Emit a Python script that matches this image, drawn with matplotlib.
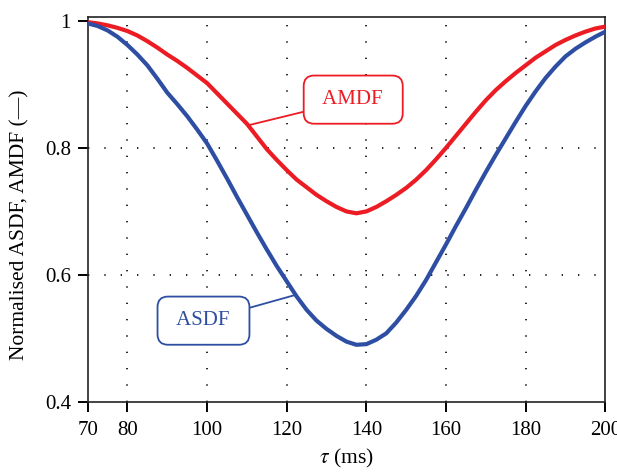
import matplotlib
matplotlib.use("Agg")
import matplotlib.pyplot as plt

tau = [70, 72.5, 75, 77.5, 80, 82.5, 85, 87.5, 90, 92.5, 95, 97.5, 100, 102.5,
       105, 107.5, 110, 112.5, 115, 117.5, 120, 122.5, 125, 127.5, 130, 132.5,
       135, 137.5, 140, 142.5, 145, 147.5, 150, 152.5, 155, 157.5, 160, 162.5,
       165, 167.5, 170, 172.5, 175, 177.5, 180, 182.5, 185, 187.5, 190, 192.5,
       195, 197.5, 200]
asdf = [0.996, 0.992, 0.985, 0.975, 0.962, 0.947, 0.930, 0.909, 0.887, 0.869,
        0.850, 0.829, 0.807, 0.780, 0.752, 0.723, 0.695, 0.667, 0.640, 0.614,
        0.590, 0.566, 0.545, 0.528, 0.515, 0.504, 0.495, 0.490, 0.491, 0.498,
        0.508, 0.525, 0.545, 0.567, 0.592, 0.620, 0.648, 0.677, 0.705, 0.734,
        0.762, 0.789, 0.815, 0.841, 0.866, 0.889, 0.910, 0.928, 0.944, 0.956,
        0.966, 0.975, 0.983]
amdf = [0.998, 0.996, 0.993, 0.989, 0.984, 0.977, 0.968, 0.958, 0.947, 0.937,
        0.926, 0.914, 0.902, 0.886, 0.870, 0.854, 0.838, 0.818, 0.798, 0.781,
        0.765, 0.750, 0.738, 0.726, 0.716, 0.707, 0.700, 0.697, 0.700, 0.707,
        0.716, 0.726, 0.737, 0.750, 0.765, 0.782, 0.800, 0.819, 0.838, 0.857,
        0.875, 0.891, 0.905, 0.918, 0.930, 0.942, 0.952, 0.962, 0.970, 0.977,
        0.983, 0.988, 0.991]
xticks = [70, 80, 100, 120, 140, 160, 180, 200]
yticks = [0.4, 0.6, 0.8, 1.0]
ytick_labels = ["0.4", "0.6", "0.8", "1"]

RED = "#ec1c24"
BLUE = "#2e4ea3"

plt.rcParams['font.family'] = ['Liberation Serif', 'DejaVu Serif']
plt.rcParams['mathtext.fontset'] = 'stix'

fig = plt.figure(figsize=(6.17, 4.74), dpi=100)
ax = fig.add_axes([0.142, 0.152, 0.839, 0.812])

ax.plot(tau, amdf, color=RED, lw=3.0, solid_joinstyle='round', zorder=3)
ax.plot(tau, asdf, color=BLUE, lw=3.0, solid_joinstyle='round', zorder=3)

ax.set_xlim(70, 200)
ax.set_ylim(0.4, 1.006)
ax.set_xticks(xticks)
ax.set_xticklabels([str(t) for t in xticks])
ax.set_yticks(yticks)
ax.set_yticklabels(ytick_labels)

gridstyle = dict(color='black', lw=1.2, linestyle=(0, (0.8, 9)), zorder=1)
for xv in xticks[1:-1]:
    ax.axvline(xv, **gridstyle)
for yv in [0.6, 0.8]:
    ax.axhline(yv, **gridstyle)

ax.tick_params(direction='out', length=7, width=1.4, labelsize=15, pad=5,
               top=False, right=False, colors='black')
ax.tick_params(axis='x', pad=7)
for s in ax.spines.values():
    s.set_linewidth(1.2)
    s.set_color('#222222')

ax.set_xlabel(r"$\tau$ (ms)", fontsize=15.5, labelpad=5)
ax.set_ylabel("Normalised ASDF, AMDF (—)", fontsize=15.5, labelpad=7)
ax.yaxis.set_label_coords(-0.112, 0.46)

box = dict(boxstyle='round,pad=0.7,rounding_size=0.5', fc='white', lw=1.3)
ax.annotate(" AMDF ", xy=(110.6, 0.836), xytext=(136.7, 0.876),
            color=RED, fontsize=15, ha='center', va='center',
            bbox=dict(box, ec=RED),
            arrowprops=dict(arrowstyle='-', color=RED, lw=1.3,
                            shrinkA=0, shrinkB=0), zorder=5)
ax.annotate(" ASDF ", xy=(121.9, 0.568), xytext=(99.1, 0.528),
            color=BLUE, fontsize=15, ha='center', va='center',
            bbox=dict(box, ec=BLUE),
            arrowprops=dict(arrowstyle='-', color=BLUE, lw=1.3,
                            shrinkA=0, shrinkB=0), zorder=5)

fig.savefig("out.png", dpi=100)
